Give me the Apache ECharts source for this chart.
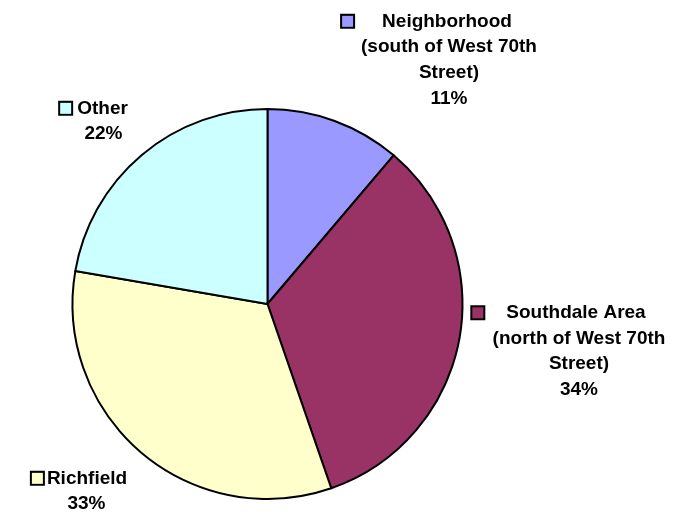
<!DOCTYPE html>
<html>
<head>
<meta charset="utf-8">
<script src="https://cdn.jsdelivr.net/npm/echarts@6/dist/echarts.min.js"></script>
<style>
html,body{margin:0;padding:0;background:#fff;}
#chart{width:676px;height:514px;}
</style>
</head>
<body>
<div id="chart"></div>
<script>
// ---- data ----
const categories = [
  'Neighborhood (south of West 70th Street)',
  'Southdale Area (north of West 70th Street)',
  'Richfield',
  'Other'
];
const labelLines = [
  ['Neighborhood', '(south of West 70th', 'Street)'],
  ['Southdale Area', '(north of West 70th', 'Street)'],
  ['Richfield'],
  ['Other']
];
const values = [11.2, 33.5, 33.0, 22.3];
const colors = ['#9999FF', '#993366', '#FFFFCC', '#CCFFFF'];

// ---- label styling / placement ----
const labelPos = [
  {x: 449, y: 8.5},
  {x: 579, y: 300},
  {x: 86.5, y: 465.5},
  {x: 103.5, y: 95.5}
];
const gapW = [29, 23, 4, 6];
const trailW = [44, 40, 14, 19];
const LH = 25.7;

const rich = { t: {fontSize: 19, fontWeight: 'bold', color: '#000', fontFamily: 'Liberation Sans, Arial, sans-serif', lineHeight: LH} };
colors.forEach((c, i) => {
  rich['k' + i] = {width: 11, height: 11, backgroundColor: c, borderColor: '#000', borderWidth: 2, lineHeight: LH};
  rich['g' + i] = {width: gapW[i], lineHeight: LH};
  rich['r' + i] = {width: trailW[i], lineHeight: LH};
});

const chart = echarts.init(document.getElementById('chart'), null, {renderer: 'canvas'});
chart.setOption({
  animation: false,
  backgroundColor: '#fff',
  series: [{
    type: 'pie',
    center: [267.5, 304],
    radius: 195,
    startAngle: 90,
    clockwise: true,
    avoidLabelOverlap: false,
    itemStyle: {borderColor: '#000', borderWidth: 2},
    emphasis: {disabled: true},
    data: categories.map((n, i) => ({name: n, value: values[i], itemStyle: {color: colors[i]}})),
    label: {
      show: true,
      position: 'outside',
      align: 'center',
      rich: rich,
      formatter: function (p) {
        const i = p.dataIndex;
        const lines = labelLines[i];
        let s = '{k' + i + '|}{g' + i + '|}{t|' + lines[0] + '}{r' + i + '|}';
        for (let j = 1; j < lines.length; j++) s += '\n{t|' + lines[j] + '}';
        s += '\n{t|' + Math.round(p.percent) + '%}';
        return s;
      }
    },
    labelLine: {show: false},
    labelLayout: function (params) {
      const p = labelPos[params.dataIndex];
      return {x: p.x, y: p.y, align: 'center', verticalAlign: 'top'};
    }
  }]
});
</script>
</body>
</html>
